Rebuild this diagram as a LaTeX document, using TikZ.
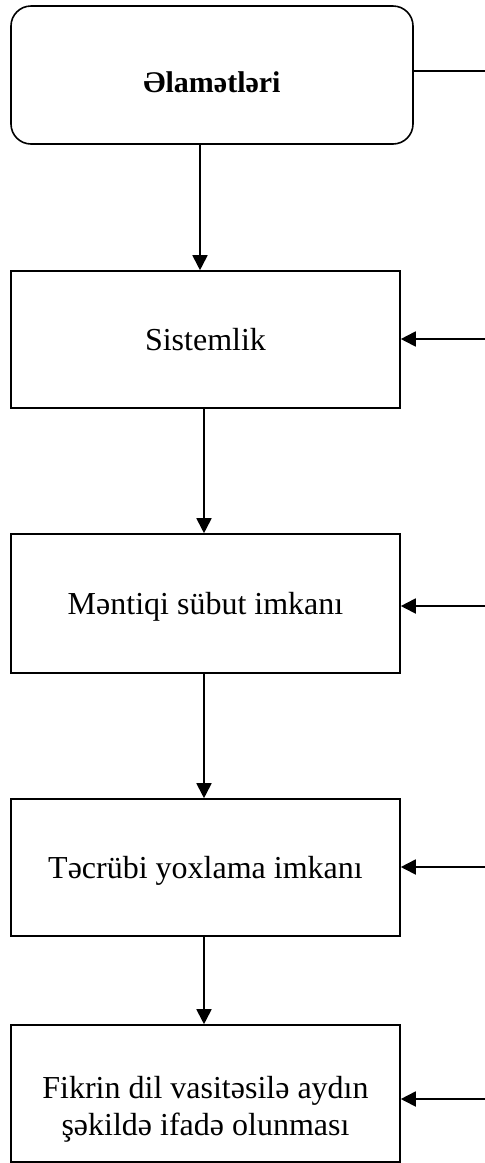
\documentclass[tikz,border=0pt]{standalone}
\usepackage{fontspec}
\setmainfont{Liberation Serif}
\usetikzlibrary{arrows.meta}
\begin{document}
\begin{tikzpicture}[x=1pt,y=1pt,
  box/.style={draw,line width=1.6pt,minimum width=389pt,inner sep=0pt,align=center,
    font=\fontsize{32}{37}\selectfont,text height=22pt,text depth=0pt},
  lbl/.style={inner sep=0pt,align=center,font=\fontsize{32}{37}\selectfont},
  conn/.style={line width=1.8pt},
  arr/.style={line width=1.8pt,-{Triangle[length=15pt,width=15pt]}}]
\useasboundingbox (0,0) rectangle (485,-1163);
\node[box,rounded corners=20pt,minimum width=402pt,minimum height=138pt] (top) at (212,-75) {};
\node[lbl,font=\fontsize{30}{34}\selectfont\bfseries,text height=20pt,text depth=0pt] (toplbl) at (212,-82) {Əlamətləri};
\node[box,minimum height=137pt] (b1) at (205.5,-339.5) {Sistemlik};
\node[box,minimum height=139pt] (b2) at (205.5,-603.5) {Məntiqi sübut imkanı};
\node[box,minimum height=137pt] (b3) at (205.5,-867.5) {Təcrübi yoxlama imkanı};
\node[box,minimum height=137pt] (b4) at (205.5,-1093.5) {};
\node[lbl] (b4lbl) at (205.5,-1109) {Fikrin dil vasitəsilə aydın\\şəkildə ifadə olunması};
\coordinate (r0) at (485,-71);
\coordinate (r1) at (485,-339);
\coordinate (r2) at (485,-606);
\coordinate (r3) at (485,-867);
\coordinate (r4) at (485,-1099);
\draw[conn] (r0 -| top.east) -- (r0);
\draw[arr] (r1) -- (r1 -| b1.east);
\draw[arr] (r2) -- (r2 -| b2.east);
\draw[arr] (r3) -- (r3 -| b3.east);
\draw[arr] (r4) -- (r4 -| b4.east);
\draw[arr] (200,0 |- top.south) -- (200,0 |- b1.north);
\draw[arr] (204,0 |- b1.south) -- (204,0 |- b2.north);
\draw[arr] (204,0 |- b2.south) -- (204,0 |- b3.north);
\draw[arr] (204,0 |- b3.south) -- (204,0 |- b4.north);
\end{tikzpicture}
\end{document}
